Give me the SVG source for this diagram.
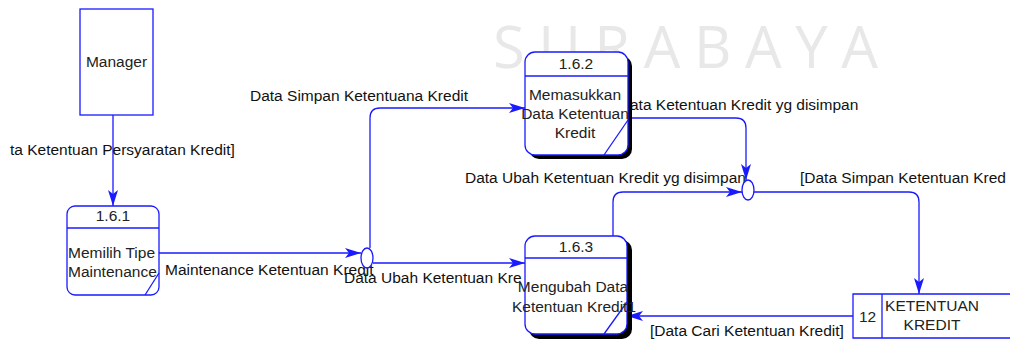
<svg xmlns="http://www.w3.org/2000/svg" width="1010" height="343" viewBox="0 0 1010 343">
  <style>
    .lbl { font-family: "Liberation Sans", Arial, sans-serif; font-size: 15.5px; fill: #111; }
    .ntx { font-family: "Liberation Sans", Arial, sans-serif; font-size: 15.5px; fill: #222; }
    .box { fill: #fff; stroke: #1a1aff; stroke-width: 1.3; }
    .ln { fill: none; stroke: #1a1aff; stroke-width: 1.3; }
    .wm { font-family: "Open Sans", "Liberation Sans", sans-serif; font-size: 58px; fill: #e8e8e8; }
  </style>
  <defs>
    <marker id="arr" viewBox="0 0 16 10" refX="16" refY="5" markerWidth="16" markerHeight="10" markerUnits="userSpaceOnUse" orient="auto">
      <path d="M0,0 L16,5 L0,10 L4,5 Z" fill="#1a1aff"/>
    </marker>
  </defs>

  <rect width="1010" height="343" fill="#fff"/>
  <text class="wm" x="493" y="68" textLength="385" lengthAdjust="spacing">SURABAYA</text>

  <!-- connectors -->
  <g id="connectors">
    <path class="ln" d="M113,115 V206" marker-end="url(#arr)"/>
    <path class="ln" d="M159,253 H361" marker-end="url(#arr)"/>
    <path class="ln" d="M370,248 V118 Q370,108 380,108 H525" marker-end="url(#arr)"/>
    <path class="ln" d="M373,263 H525" marker-end="url(#arr)"/>
    <path class="ln" d="M628,118 H736 Q746,118 746,128 V180" marker-end="url(#arr)"/>
    <path class="ln" d="M613,236 V202 Q613,192 623,192 H742" marker-end="url(#arr)"/>
    <path class="ln" d="M754,192 H909 Q919,192 919,202 V294" marker-end="url(#arr)"/>
    <path class="ln" d="M853,316 H627" marker-end="url(#arr)"/>
  </g>

  <!-- flow labels -->
  <g id="labels">
    <text class="lbl" x="10" y="155">ta Ketentuan Persyaratan Kredit]</text>
    <text class="lbl" x="165" y="275">Maintenance Ketentuan Kredit</text>
    <text class="lbl" x="250" y="101">Data Simpan Ketentuana Kredit</text>
    <text class="lbl" x="344" y="283">Data Ubah Ketentuan Kre</text>
    <text class="lbl" x="630" y="110">ata Ketentuan Kredit yg disimpan</text>
    <text class="lbl" x="465" y="183">Data Ubah Ketentuan Kredit yg disimpan</text>
    <text class="lbl" x="800" y="183">[Data Simpan Ketentuan Kred</text>
    <text class="lbl" x="650" y="336">[Data Cari Ketentuan Kredit]</text>
  </g>

  <!-- external entity -->
  <g id="manager">
    <rect class="box" x="80" y="9" width="73" height="106"/>
    <text class="ntx" x="116.5" y="67" text-anchor="middle" fill="#444">Manager</text>
  </g>

  <!-- process 1.6.1 -->
  <g id="p161">
    <rect class="box" x="67" y="206" width="92" height="89" rx="8"/>
    <line class="ln" x1="67" y1="228" x2="159" y2="228"/>
    <line class="ln" x1="145" y1="295" x2="159" y2="273"/>
    <text class="ntx" x="113" y="221" text-anchor="middle">1.6.1</text>
    <text class="ntx" x="68" y="258">Memilih Tipe</text>
    <text class="ntx" x="68" y="277">Maintenance</text>
  </g>

  <!-- junctions -->
  <g id="join1">
    <ellipse cx="367" cy="258" rx="6" ry="10" fill="#fff" stroke="#1a1aff" stroke-width="1.3"/>
  </g>
  <g id="join2">
    <ellipse cx="748" cy="190" rx="6" ry="10" fill="#fff" stroke="#1a1aff" stroke-width="1.3"/>
  </g>

  <!-- process 1.6.2 -->
  <g id="p162">
    <rect x="529" y="56" width="103" height="103" rx="10" fill="#000"/>
    <rect class="box" x="525" y="52" width="103" height="103" rx="10"/>
    <line class="ln" x1="525" y1="76" x2="628" y2="76"/>
    <line class="ln" x1="604" y1="155" x2="628" y2="120"/>
    <text class="ntx" x="576" y="69" text-anchor="middle">1.6.2</text>
    <text class="ntx" x="575" y="100" text-anchor="middle">Memasukkan</text>
    <text class="ntx" x="575" y="119" text-anchor="middle">Data Ketentuan</text>
    <text class="ntx" x="575" y="138" text-anchor="middle">Kredit</text>
  </g>

  <!-- process 1.6.3 -->
  <g id="p163">
    <rect x="529" y="240" width="103" height="99" rx="10" fill="#000"/>
    <rect class="box" x="525" y="236" width="102" height="98" rx="10"/>
    <line class="ln" x1="525" y1="258" x2="627" y2="258"/>
    <line class="ln" x1="604" y1="334" x2="627" y2="302"/>
    <text class="ntx" x="576" y="252" text-anchor="middle">1.6.3</text>
    <text class="ntx" x="573" y="292" text-anchor="middle">Mengubah Data</text>
    <text class="ntx" x="574" y="312" text-anchor="middle">Ketentuan Kredit1</text>
  </g>

  <!-- data store -->
  <g id="store12">
    <path class="ln" d="M1010,294 H853 V338 H1010" fill="#fff"/>
    <line class="ln" x1="882" y1="294" x2="882" y2="338"/>
    <text class="ntx" x="867.5" y="322" text-anchor="middle">12</text>
    <text class="ntx" x="932" y="311" text-anchor="middle">KETENTUAN</text>
    <text class="ntx" x="932" y="330" text-anchor="middle">KREDIT</text>
  </g>
</svg>
